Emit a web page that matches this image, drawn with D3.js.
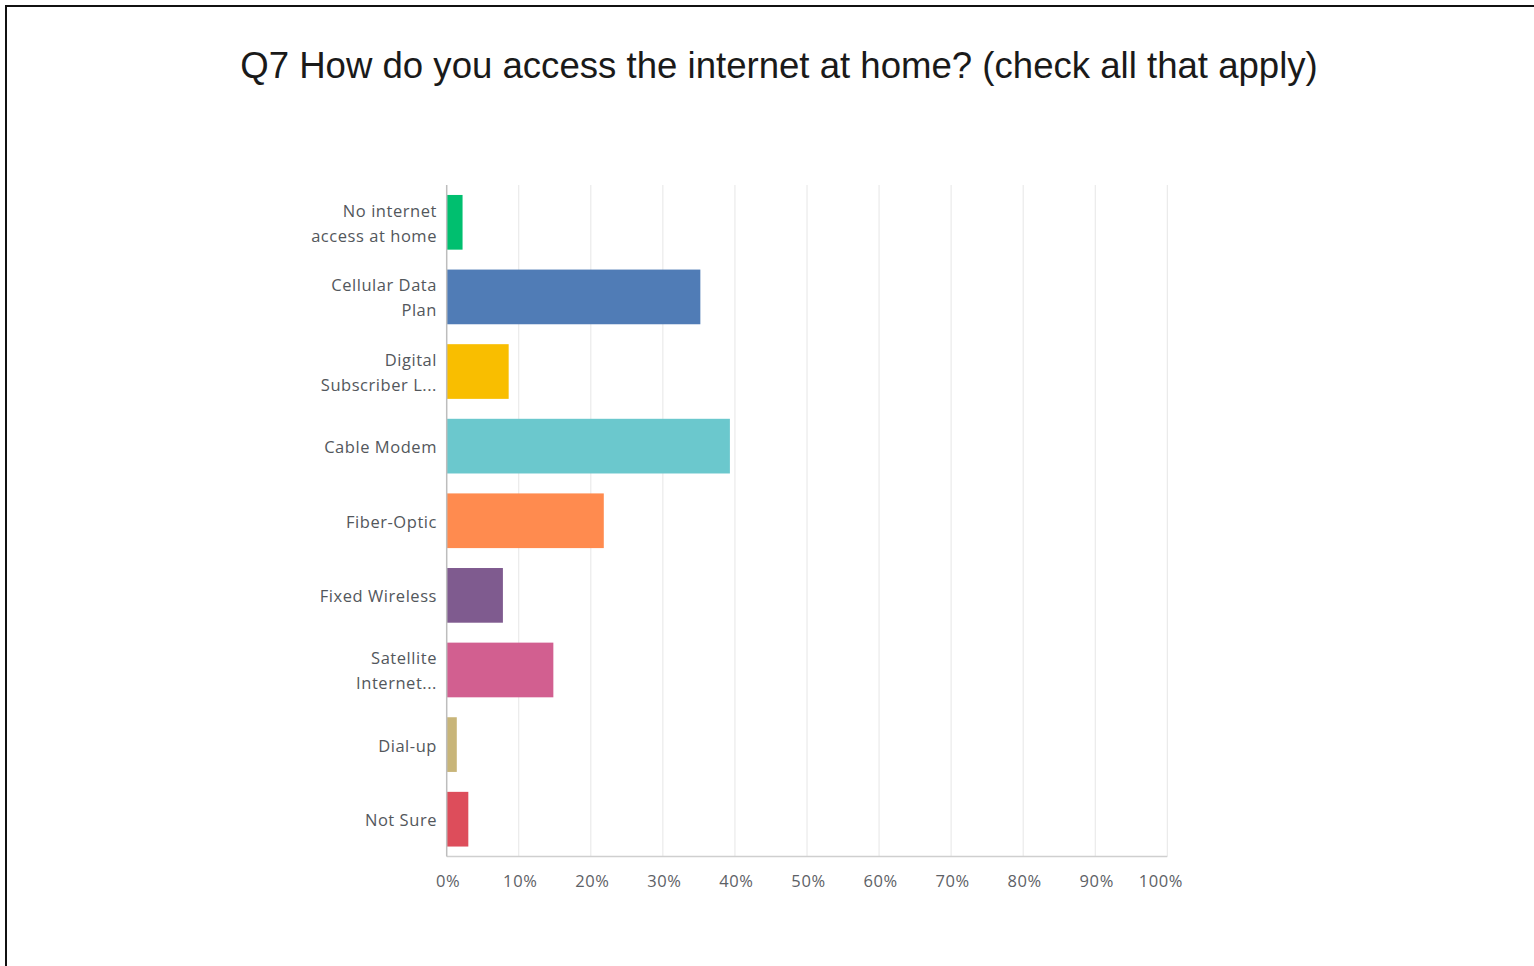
<!DOCTYPE html>
<html>
<head>
<meta charset="utf-8">
<script src="https://cdn.jsdelivr.net/npm/d3@7"></script>
<style>
  html, body { margin: 0; padding: 0; background: #fff; }
  svg { display: block; }
</style>
</head>
<body>
<svg id="chart" width="1534" height="966"></svg>
<script>
// Answer choices (each may wrap onto two lines)
const categories = [
  ["No internet", "access at home"],
  ["Cellular Data", "Plan"],
  ["Digital", "Subscriber L..."],
  ["Cable Modem"],
  ["Fiber-Optic"],
  ["Fixed Wireless"],
  ["Satellite", "Internet..."],
  ["Dial-up"],
  ["Not Sure"]
];
// Share of respondents choosing each option (%)
const values = [2.2, 35.2, 8.6, 39.3, 21.8, 7.8, 14.8, 1.4, 3.0];
const colors = ["#00bf6f", "#507cb6", "#f9be00", "#6bc8cd", "#ff8b4f",
                "#7f5b8f", "#d25f90", "#c8b579", "#dd4d5b"];
const tickValues = [0, 10, 20, 30, 40, 50, 60, 70, 80, 90, 100];
const title = "Q7 How do you access the internet at home? (check all that apply)";

const svg = d3.select("#chart");

// Frame around the chart
svg.append("path")
  .attr("d", "M6,970 L6,6 L1540,6")
  .attr("fill", "none")
  .attr("stroke", "#111")
  .attr("stroke-width", 2);

svg.append("text")
  .attr("x", 779)
  .attr("y", 78)
  .attr("text-anchor", "middle")
  .attr("font-family", "'Liberation Sans', Arial, sans-serif")
  .attr("font-size", 36.6)
  .attr("fill", "#1a1a1a")
  .text(title);

const margin = { left: 446.7, right: 1167.3, top: 185, bottom: 856.5 };

const x = d3.scaleLinear().domain([0, 100]).range([margin.left, margin.right]);
const y = d3.scaleBand()
  .domain(d3.range(categories.length))
  .range([margin.top, margin.bottom])
  .paddingInner(0.267)
  .paddingOuter(0.1335);

// Vertical gridlines
svg.append("g")
  .selectAll("line")
  .data(tickValues.slice(1))
  .join("line")
  .attr("x1", d => x(d)).attr("x2", d => x(d))
  .attr("y1", margin.top).attr("y2", margin.bottom)
  .attr("stroke", "#e6e6e6")
  .attr("stroke-width", 1);

// Bars
svg.append("g")
  .selectAll("rect")
  .data(values)
  .join("rect")
  .attr("x", x(0))
  .attr("y", (d, i) => y(i))
  .attr("width", d => x(d) - x(0))
  .attr("height", y.bandwidth())
  .attr("fill", (d, i) => colors[i]);

// Axis lines
svg.append("line")
  .attr("x1", x(0)).attr("x2", x(100))
  .attr("y1", margin.bottom).attr("y2", margin.bottom)
  .attr("stroke", "#cfcfcf").attr("stroke-width", 1.5);
svg.append("line")
  .attr("x1", x(0)).attr("x2", x(0))
  .attr("y1", margin.top).attr("y2", margin.bottom)
  .attr("stroke", "#bdbdbd").attr("stroke-width", 1.5);

// X axis tick labels
const xAxis = d3.axisBottom(x)
  .tickValues(tickValues)
  .tickFormat(d => d + "%")
  .tickSize(0)
  .tickPadding(0);
const gx = svg.append("g")
  .attr("transform", `translate(0,${margin.bottom})`)
  .call(xAxis);
gx.select(".domain").remove();
gx.selectAll("text")
  .attr("y", 30)
  .attr("dy", 0)
  .attr("font-family", "'Open Sans', sans-serif")
  .attr("font-size", 16.5)
  .attr("letter-spacing", 0.6)
  .attr("fill", "#5d6166")
  .attr("dx", d => d === 100 ? -7 : 1);

// Category labels, right aligned next to the axis
const labelGroup = svg.append("g");
categories.forEach((lines, i) => {
  const cy = y(i) + y.bandwidth() / 2;
  const lh = 25;
  const t = labelGroup.append("text")
    .attr("text-anchor", "end")
    .attr("font-family", "'Open Sans', sans-serif")
    .attr("font-size", 16.5)
    .attr("letter-spacing", 0.55)
    .attr("fill", "#53575c");
  lines.forEach((line, j) => {
    t.append("tspan")
      .attr("x", 437)
      .attr("y", cy + 7 + (j - (lines.length - 1) / 2) * lh)
      .text(line);
  });
});
</script>
</body>
</html>
